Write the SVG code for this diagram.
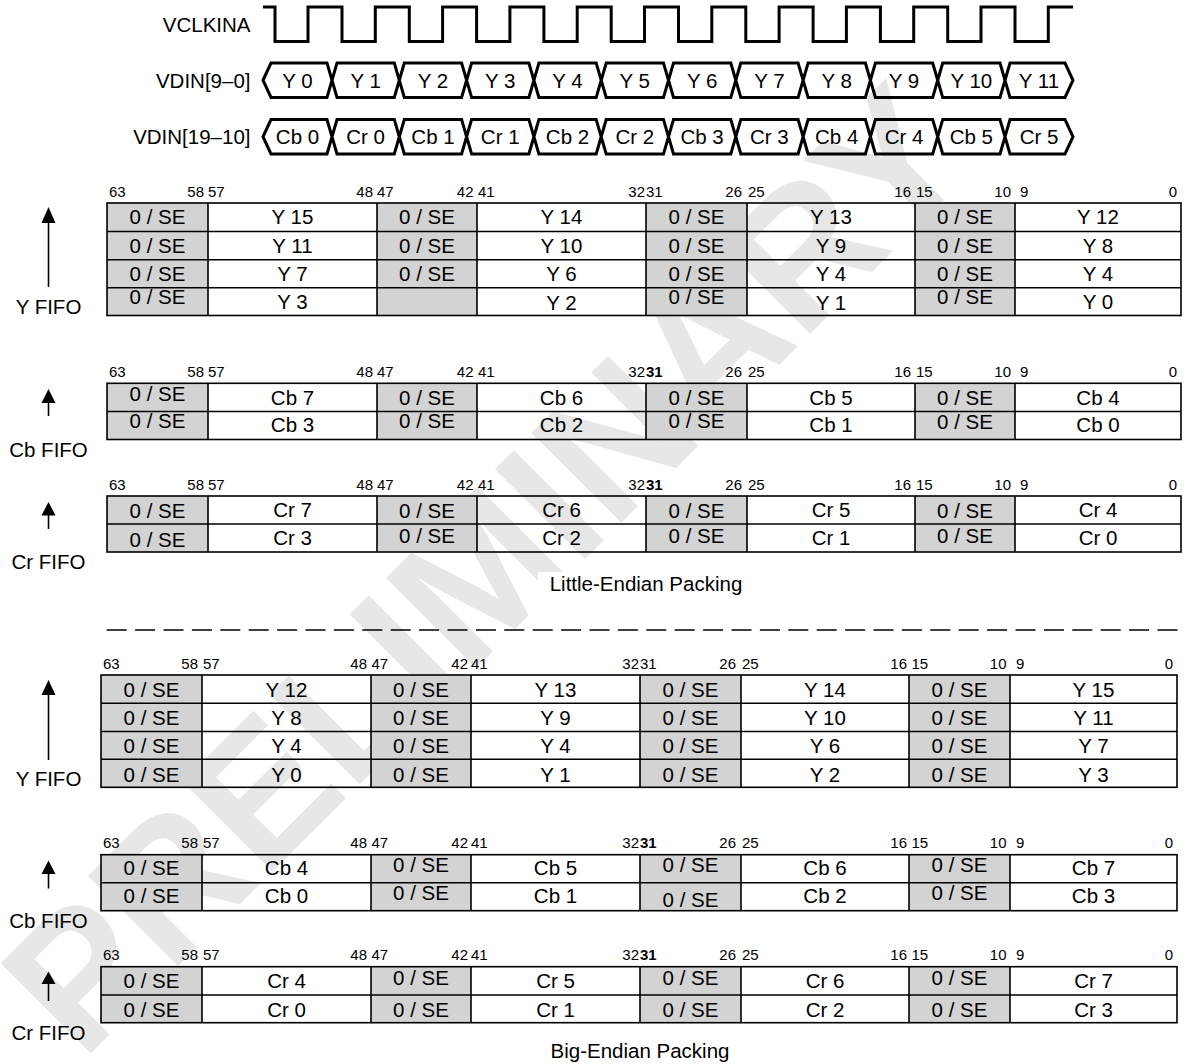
<svg xmlns="http://www.w3.org/2000/svg" xmlns:xlink="http://www.w3.org/1999/xlink" width="1188" height="1064" viewBox="0 0 1188 1064">
<style>
text{font-family:'Liberation Sans',Arial,Helvetica,sans-serif;fill:#000}
.c{font-size:20.5px;text-anchor:middle}
.l{font-size:20.5px;text-anchor:end}
.n{font-size:15px}
.e{text-anchor:end}
.bd{font-weight:bold}
.g{fill:#d3d3d3;stroke:none}
.k{fill:none;stroke:#000;stroke-width:1.6}
.sig{fill:none;stroke:#000;stroke-width:3;stroke-linejoin:miter}
.wm{font-size:185px;font-weight:bold;fill:#e7e7e7}
.ar{fill:#000;stroke:none}
</style>
<defs>
<path id="bus" class="sig" d="M263,17.25 L271,0 L327,0 L332,17.25 L327,34.5 L271,34.5 Z M332,17.25 L337,0 L394.3,0 L399.3,17.25 L394.3,34.5 L337,34.5 Z M399.3,17.25 L404.3,0 L461.6,0 L466.6,17.25 L461.6,34.5 L404.3,34.5 Z M466.6,17.25 L471.6,0 L528.9,0 L533.9,17.25 L528.9,34.5 L471.6,34.5 Z M533.9,17.25 L538.9,0 L596.2,0 L601.2,17.25 L596.2,34.5 L538.9,34.5 Z M601.2,17.25 L606.2,0 L663.5,0 L668.5,17.25 L663.5,34.5 L606.2,34.5 Z M668.5,17.25 L673.5,0 L730.8,0 L735.8,17.25 L730.8,34.5 L673.5,34.5 Z M735.8,17.25 L740.8,0 L798.1,0 L803.1,17.25 L798.1,34.5 L740.8,34.5 Z M803.1,17.25 L808.1,0 L865.4,0 L870.4,17.25 L865.4,34.5 L808.1,34.5 Z M870.4,17.25 L875.4,0 L932.7,0 L937.7,17.25 L932.7,34.5 L875.4,34.5 Z M937.7,17.25 L942.7,0 L1000,0 L1005,17.25 L1000,34.5 L942.7,34.5 Z M1005,17.25 L1010,0 L1065,0 L1073,17.25 L1065,34.5 L1010,34.5 Z"/>
</defs>

<g id="watermark">
<text class="wm" transform="translate(82,1062) rotate(-45)">PRELIMINARY</text>
</g>

<g id="vclkina">
<text class="l" x="250.5" y="32">VCLKINA</text>
<path class="sig" d="M263,7 H275 V41.5 H308 V7 H342 V41.5 H375.3 V7 H409.3 V41.5 H442.6 V7 H476.6 V41.5 H509.9 V7 H543.9 V41.5 H577.2 V7 H611.2 V41.5 H644.5 V7 H678.5 V41.5 H711.8 V7 H745.8 V41.5 H779.1 V7 H813.1 V41.5 H846.4 V7 H880.4 V41.5 H913.7 V7 H947.7 V41.5 H981 V7 H1015 V41.5 H1048.3 V7 H1073"/>
</g>

<g id="vdin-9-0">
<text class="l" x="250.5" y="87.5">VDIN[9–0]</text>
<use xlink:href="#bus" href="#bus" y="63"/>
<text class="c" x="297.5" y="87.5">Y 0</text>
<text class="c" x="365.6" y="87.5">Y 1</text>
<text class="c" x="433" y="87.5">Y 2</text>
<text class="c" x="500.2" y="87.5">Y 3</text>
<text class="c" x="567.5" y="87.5">Y 4</text>
<text class="c" x="634.8" y="87.5">Y 5</text>
<text class="c" x="702.1" y="87.5">Y 6</text>
<text class="c" x="769.4" y="87.5">Y 7</text>
<text class="c" x="836.7" y="87.5">Y 8</text>
<text class="c" x="904" y="87.5">Y 9</text>
<text class="c" x="971.3" y="87.5">Y 10</text>
<text class="c" x="1039" y="87.5">Y 11</text>
</g>

<g id="vdin-19-10">
<text class="l" x="250.5" y="143.5">VDIN[19–10]</text>
<use xlink:href="#bus" href="#bus" y="119.5"/>
<text class="c" x="297.5" y="143.5">Cb 0</text>
<text class="c" x="365.6" y="143.5">Cr 0</text>
<text class="c" x="433" y="143.5">Cb 1</text>
<text class="c" x="500.2" y="143.5">Cr 1</text>
<text class="c" x="567.5" y="143.5">Cb 2</text>
<text class="c" x="634.8" y="143.5">Cr 2</text>
<text class="c" x="702.1" y="143.5">Cb 3</text>
<text class="c" x="769.4" y="143.5">Cr 3</text>
<text class="c" x="836.7" y="143.5">Cb 4</text>
<text class="c" x="904" y="143.5">Cr 4</text>
<text class="c" x="971.3" y="143.5">Cb 5</text>
<text class="c" x="1039" y="143.5">Cr 5</text>
</g>

<!-- ===== Little-Endian Y FIFO ===== -->
<g id="le-y-fifo">
<rect class="g" x="107" y="203" width="101" height="112.5"/>
<rect class="g" x="377" y="203" width="100" height="112.5"/>
<rect class="g" x="646" y="203" width="101" height="112.5"/>
<rect class="g" x="915" y="203" width="100" height="112.5"/>
<rect class="k" x="107" y="203" width="1074" height="112.5"/>
<path class="k" d="M107,231.5H1181M107,259.7H1181M107,287.7H1181M208,203V315.5M377,203V315.5M477,203V315.5M646,203V315.5M747,203V315.5M915,203V315.5M1015,203V315.5"/>
<text class="n" x="109" y="196.5">63</text>
<text class="n e" x="204" y="196.5">58</text><text class="n" x="208" y="196.5">57</text>
<text class="n e" x="373" y="196.5">48</text><text class="n" x="377" y="196.5">47</text>
<text class="n e" x="473.5" y="196.5">42</text><text class="n" x="478" y="196.5">41</text>
<text class="n e" x="645" y="196.5">32</text><text class="n" x="646" y="196.5">31</text>
<text class="n e" x="742" y="196.5">26</text><text class="n" x="748" y="196.5">25</text>
<text class="n e" x="911" y="196.5">16</text><text class="n" x="916" y="196.5">15</text>
<text class="n e" x="1011" y="196.5">10</text><text class="n" x="1020" y="196.5">9</text>
<text class="n e" x="1177" y="196.5">0</text>
<text class="c" x="157.5" y="224">0 / SE</text><text class="c" x="292.5" y="224">Y 15</text><text class="c" x="427" y="224">0 / SE</text><text class="c" x="561.5" y="224">Y 14</text><text class="c" x="696.5" y="224">0 / SE</text><text class="c" x="831" y="224">Y 13</text><text class="c" x="965" y="224">0 / SE</text><text class="c" x="1098" y="224">Y 12</text>
<text class="c" x="157.5" y="252.5">0 / SE</text><text class="c" x="292.5" y="252.5">Y 11</text><text class="c" x="427" y="252.5">0 / SE</text><text class="c" x="561.5" y="252.5">Y 10</text><text class="c" x="696.5" y="252.5">0 / SE</text><text class="c" x="831" y="252.5">Y 9</text><text class="c" x="965" y="252.5">0 / SE</text><text class="c" x="1098" y="252.5">Y 8</text>
<text class="c" x="157.5" y="280.5">0 / SE</text><text class="c" x="292.5" y="280.5">Y 7</text><text class="c" x="427" y="280.5">0 / SE</text><text class="c" x="561.5" y="280.5">Y 6</text><text class="c" x="696.5" y="280.5">0 / SE</text><text class="c" x="831" y="280.5">Y 4</text><text class="c" x="965" y="280.5">0 / SE</text><text class="c" x="1098" y="280.5">Y 4</text>
<text class="c" x="157.5" y="303.5">0 / SE</text><text class="c" x="292.5" y="309">Y 3</text><text class="c" x="561.5" y="309.5">Y 2</text><text class="c" x="696.5" y="303.5">0 / SE</text><text class="c" x="831" y="309.5">Y 1</text><text class="c" x="965" y="303.5">0 / SE</text><text class="c" x="1098" y="309">Y 0</text>
<text class="c" x="48.5" y="314">Y FIFO</text>
</g>

<!-- ===== Little-Endian Cb FIFO ===== -->
<g id="le-cb-fifo">
<rect class="g" x="107" y="383.3" width="101" height="56.2"/>
<rect class="g" x="377" y="383.3" width="100" height="56.2"/>
<rect class="g" x="646" y="383.3" width="101" height="56.2"/>
<rect class="g" x="915" y="383.3" width="100" height="56.2"/>
<rect class="k" x="107" y="383.3" width="1074" height="56.2"/>
<path class="k" d="M107,411.5H1181M208,383.3V439.5M377,383.3V439.5M477,383.3V439.5M646,383.3V439.5M747,383.3V439.5M915,383.3V439.5M1015,383.3V439.5"/>
<text class="n" x="109" y="377">63</text>
<text class="n e" x="204" y="377">58</text><text class="n" x="208" y="377">57</text>
<text class="n e" x="373" y="377">48</text><text class="n" x="377" y="377">47</text>
<text class="n e" x="473.5" y="377">42</text><text class="n" x="478" y="377">41</text>
<text class="n e" x="645" y="377">32</text><text class="n bd" x="646" y="377">31</text>
<text class="n e" x="742" y="377">26</text><text class="n" x="748" y="377">25</text>
<text class="n e" x="911" y="377">16</text><text class="n" x="916" y="377">15</text>
<text class="n e" x="1011" y="377">10</text><text class="n" x="1020" y="377">9</text>
<text class="n e" x="1177" y="377">0</text>
<text class="c" x="157.5" y="401">0 / SE</text><text class="c" x="292.5" y="405">Cb 7</text><text class="c" x="427" y="405">0 / SE</text><text class="c" x="561.5" y="405">Cb 6</text><text class="c" x="696.5" y="405">0 / SE</text><text class="c" x="831" y="405">Cb 5</text><text class="c" x="965" y="405">0 / SE</text><text class="c" x="1098" y="404.5">Cb 4</text>
<text class="c" x="157.5" y="428">0 / SE</text><text class="c" x="292.5" y="432">Cb 3</text><text class="c" x="427" y="428">0 / SE</text><text class="c" x="561.5" y="432">Cb 2</text><text class="c" x="696.5" y="428">0 / SE</text><text class="c" x="831" y="432">Cb 1</text><text class="c" x="965" y="429">0 / SE</text><text class="c" x="1098" y="432">Cb 0</text>
<text class="c" x="48.5" y="456.5">Cb FIFO</text>
</g>

<!-- ===== Little-Endian Cr FIFO ===== -->
<g id="le-cr-fifo">
<rect class="g" x="107" y="496" width="101" height="56"/>
<rect class="g" x="377" y="496" width="100" height="56"/>
<rect class="g" x="646" y="496" width="101" height="56"/>
<rect class="g" x="915" y="496" width="100" height="56"/>
<rect class="k" x="107" y="496" width="1074" height="56"/>
<path class="k" d="M107,524H1181M208,496V552M377,496V552M477,496V552M646,496V552M747,496V552M915,496V552M1015,496V552"/>
<text class="n" x="109" y="489.5">63</text>
<text class="n e" x="204" y="489.5">58</text><text class="n" x="208" y="489.5">57</text>
<text class="n e" x="373" y="489.5">48</text><text class="n" x="377" y="489.5">47</text>
<text class="n e" x="473.5" y="489.5">42</text><text class="n" x="478" y="489.5">41</text>
<text class="n e" x="645" y="489.5">32</text><text class="n bd" x="646" y="489.5">31</text>
<text class="n e" x="742" y="489.5">26</text><text class="n" x="748" y="489.5">25</text>
<text class="n e" x="911" y="489.5">16</text><text class="n" x="916" y="489.5">15</text>
<text class="n e" x="1011" y="489.5">10</text><text class="n" x="1020" y="489.5">9</text>
<text class="n e" x="1177" y="489.5">0</text>
<text class="c" x="157.5" y="517.5">0 / SE</text><text class="c" x="292.5" y="517">Cr 7</text><text class="c" x="427" y="517.5">0 / SE</text><text class="c" x="561.5" y="517">Cr 6</text><text class="c" x="696.5" y="517.5">0 / SE</text><text class="c" x="831" y="517">Cr 5</text><text class="c" x="965" y="517.5">0 / SE</text><text class="c" x="1098" y="517">Cr 4</text>
<text class="c" x="157.5" y="546.5">0 / SE</text><text class="c" x="292.5" y="544.5">Cr 3</text><text class="c" x="427" y="543">0 / SE</text><text class="c" x="561.5" y="544.5">Cr 2</text><text class="c" x="696.5" y="543">0 / SE</text><text class="c" x="831" y="545">Cr 1</text><text class="c" x="965" y="543">0 / SE</text><text class="c" x="1098" y="545">Cr 0</text>
<text class="c" x="48.5" y="569">Cr FIFO</text>
</g>

<g id="le-caption">
<rect x="538" y="572" width="217" height="26" fill="#fff"/>
<text class="c" x="646" y="591">Little-Endian Packing</text>
</g>

<g id="separator">
<path d="M106.7,630H1178" fill="none" stroke="#000" stroke-width="1.5" stroke-dasharray="20 8.4"/>
</g>

<!-- ===== Big-Endian Y FIFO ===== -->
<g id="be-y-fifo">
<rect class="g" x="101" y="675" width="101" height="112.3"/>
<rect class="g" x="371" y="675" width="100" height="112.3"/>
<rect class="g" x="640" y="675" width="101" height="112.3"/>
<rect class="g" x="909" y="675" width="101" height="112.3"/>
<rect class="k" x="101" y="675" width="1076" height="112.3"/>
<path class="k" d="M101,703.3H1177M101,731.5H1177M101,759.3H1177M202,675V787.3M371,675V787.3M471,675V787.3M640,675V787.3M741,675V787.3M909,675V787.3M1010,675V787.3"/>
<text class="n" x="103" y="668.5">63</text>
<text class="n e" x="198" y="668.5">58</text><text class="n" x="203" y="668.5">57</text>
<text class="n e" x="367" y="668.5">48</text><text class="n" x="371.5" y="668.5">47</text>
<text class="n e" x="468" y="668.5">42</text><text class="n" x="471" y="668.5">41</text>
<text class="n e" x="639" y="668.5">32</text><text class="n" x="640" y="668.5">31</text>
<text class="n e" x="736" y="668.5">26</text><text class="n" x="742" y="668.5">25</text>
<text class="n e" x="907" y="668.5">16</text><text class="n" x="911.5" y="668.5">15</text>
<text class="n e" x="1006.5" y="668.5">10</text><text class="n" x="1016" y="668.5">9</text>
<text class="n e" x="1173" y="668.5">0</text>
<text class="c" x="151.5" y="696.7">0 / SE</text><text class="c" x="286.5" y="696.7">Y 12</text><text class="c" x="421" y="696.7">0 / SE</text><text class="c" x="555.5" y="696.7">Y 13</text><text class="c" x="690.5" y="696.7">0 / SE</text><text class="c" x="825" y="696.7">Y 14</text><text class="c" x="959.5" y="696.7">0 / SE</text><text class="c" x="1093.5" y="696.7">Y 15</text>
<text class="c" x="151.5" y="725">0 / SE</text><text class="c" x="286.5" y="725">Y 8</text><text class="c" x="421" y="725">0 / SE</text><text class="c" x="555.5" y="725">Y 9</text><text class="c" x="690.5" y="725">0 / SE</text><text class="c" x="825" y="725">Y 10</text><text class="c" x="959.5" y="725">0 / SE</text><text class="c" x="1093.5" y="725">Y 11</text>
<text class="c" x="151.5" y="753">0 / SE</text><text class="c" x="286.5" y="753">Y 4</text><text class="c" x="421" y="753">0 / SE</text><text class="c" x="555.5" y="753">Y 4</text><text class="c" x="690.5" y="753">0 / SE</text><text class="c" x="825" y="753">Y 6</text><text class="c" x="959.5" y="753">0 / SE</text><text class="c" x="1093.5" y="753">Y 7</text>
<text class="c" x="151.5" y="781.5">0 / SE</text><text class="c" x="286.5" y="781.5">Y 0</text><text class="c" x="421" y="781.5">0 / SE</text><text class="c" x="555.5" y="781.5">Y 1</text><text class="c" x="690.5" y="781.5">0 / SE</text><text class="c" x="825" y="781.5">Y 2</text><text class="c" x="959.5" y="781.5">0 / SE</text><text class="c" x="1093.5" y="781.5">Y 3</text>
<text class="c" x="48.5" y="786">Y FIFO</text>
</g>

<!-- ===== Big-Endian Cb FIFO ===== -->
<g id="be-cb-fifo">
<rect class="g" x="101" y="854.7" width="101" height="56"/>
<rect class="g" x="371" y="854.7" width="100" height="56"/>
<rect class="g" x="640" y="854.7" width="101" height="56"/>
<rect class="g" x="909" y="854.7" width="101" height="56"/>
<rect class="k" x="101" y="854.7" width="1076" height="56"/>
<path class="k" d="M101,882.7H1177M202,854.7V910.7M371,854.7V910.7M471,854.7V910.7M640,854.7V910.7M741,854.7V910.7M909,854.7V910.7M1010,854.7V910.7"/>
<text class="n" x="103" y="848.2">63</text>
<text class="n e" x="198" y="848.2">58</text><text class="n" x="203" y="848.2">57</text>
<text class="n e" x="367" y="848.2">48</text><text class="n" x="371.5" y="848.2">47</text>
<text class="n e" x="468" y="848.2">42</text><text class="n" x="471" y="848.2">41</text>
<text class="n e" x="639" y="848.2">32</text><text class="n bd" x="640" y="848.2">31</text>
<text class="n e" x="736" y="848.2">26</text><text class="n" x="742" y="848.2">25</text>
<text class="n e" x="907" y="848.2">16</text><text class="n" x="911.5" y="848.2">15</text>
<text class="n e" x="1006.5" y="848.2">10</text><text class="n" x="1016" y="848.2">9</text>
<text class="n e" x="1173" y="848.2">0</text>
<text class="c" x="151.5" y="875">0 / SE</text><text class="c" x="286.5" y="875">Cb 4</text><text class="c" x="421" y="871.5">0 / SE</text><text class="c" x="555.5" y="875">Cb 5</text><text class="c" x="690.5" y="871.5">0 / SE</text><text class="c" x="825" y="875">Cb 6</text><text class="c" x="959.5" y="871.5">0 / SE</text><text class="c" x="1093.5" y="875">Cb 7</text>
<text class="c" x="151.5" y="903.3">0 / SE</text><text class="c" x="286.5" y="903.3">Cb 0</text><text class="c" x="421" y="899.5">0 / SE</text><text class="c" x="555.5" y="903.3">Cb 1</text><text class="c" x="690.5" y="907">0 / SE</text><text class="c" x="825" y="903.3">Cb 2</text><text class="c" x="959.5" y="899.5">0 / SE</text><text class="c" x="1093.5" y="903.3">Cb 3</text>
<text class="c" x="48.5" y="928">Cb FIFO</text>
</g>

<!-- ===== Big-Endian Cr FIFO ===== -->
<g id="be-cr-fifo">
<rect class="g" x="101" y="966.7" width="101" height="56"/>
<rect class="g" x="371" y="966.7" width="100" height="56"/>
<rect class="g" x="640" y="966.7" width="101" height="56"/>
<rect class="g" x="909" y="966.7" width="101" height="56"/>
<rect class="k" x="101" y="966.7" width="1076" height="56"/>
<path class="k" d="M101,995H1177M202,966.7V1022.7M371,966.7V1022.7M471,966.7V1022.7M640,966.7V1022.7M741,966.7V1022.7M909,966.7V1022.7M1010,966.7V1022.7"/>
<text class="n" x="103" y="960.2">63</text>
<text class="n e" x="198" y="960.2">58</text><text class="n" x="203" y="960.2">57</text>
<text class="n e" x="367" y="960.2">48</text><text class="n" x="371.5" y="960.2">47</text>
<text class="n e" x="468" y="960.2">42</text><text class="n" x="471" y="960.2">41</text>
<text class="n e" x="639" y="960.2">32</text><text class="n bd" x="640" y="960.2">31</text>
<text class="n e" x="736" y="960.2">26</text><text class="n" x="742" y="960.2">25</text>
<text class="n e" x="907" y="960.2">16</text><text class="n" x="911.5" y="960.2">15</text>
<text class="n e" x="1006.5" y="960.2">10</text><text class="n" x="1016" y="960.2">9</text>
<text class="n e" x="1173" y="960.2">0</text>
<text class="c" x="151.5" y="988.3">0 / SE</text><text class="c" x="286.5" y="988.3">Cr 4</text><text class="c" x="421" y="984.5">0 / SE</text><text class="c" x="555.5" y="988.3">Cr 5</text><text class="c" x="690.5" y="984.5">0 / SE</text><text class="c" x="825" y="988.3">Cr 6</text><text class="c" x="959.5" y="984.5">0 / SE</text><text class="c" x="1093.5" y="988.3">Cr 7</text>
<text class="c" x="151.5" y="1016.7">0 / SE</text><text class="c" x="286.5" y="1016.7">Cr 0</text><text class="c" x="421" y="1016.5">0 / SE</text><text class="c" x="555.5" y="1016.7">Cr 1</text><text class="c" x="690.5" y="1016.5">0 / SE</text><text class="c" x="825" y="1016.7">Cr 2</text><text class="c" x="959.5" y="1016.5">0 / SE</text><text class="c" x="1093.5" y="1016.7">Cr 3</text>
<text class="c" x="48.5" y="1040">Cr FIFO</text>
</g>

<g id="be-caption">
<text class="c" x="640" y="1058">Big-Endian Packing</text>
</g>

<g id="connectors">
<path class="k" d="M48.5,222V287"/><polygon class="ar" points="48.5,207 41.5,223 55.5,223"/>
<path class="k" d="M48.5,402V416"/><polygon class="ar" points="48.5,389 41.5,403 55.5,403"/>
<path class="k" d="M48.5,514V529"/><polygon class="ar" points="48.5,502 41.5,515.5 55.5,515.5"/>
<path class="k" d="M48.5,694V760"/><polygon class="ar" points="48.5,680 41.5,695 55.5,695"/>
<path class="k" d="M48.5,873V888.5"/><polygon class="ar" points="48.5,860.5 41.5,874 55.5,874"/>
<path class="k" d="M48.5,983V1001"/><polygon class="ar" points="48.5,971.5 41.5,984 55.5,984"/>
</g>
</svg>
